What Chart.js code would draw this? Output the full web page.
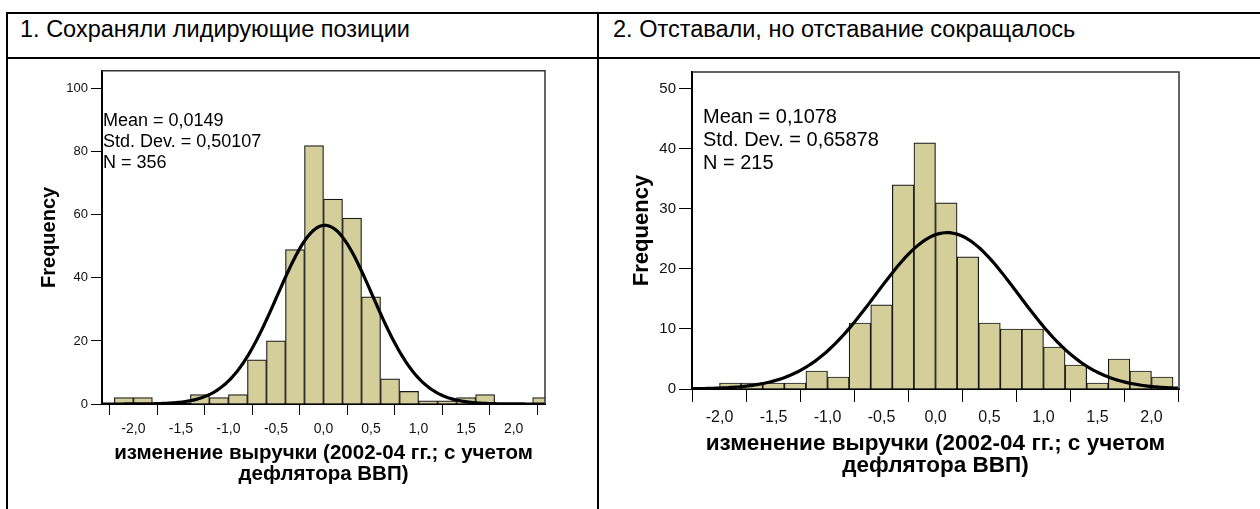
<!DOCTYPE html>
<html>
<head>
<meta charset="utf-8">
<script src="https://cdn.jsdelivr.net/npm/chart.js@4.4.1/dist/chart.umd.min.js"></script>
<style>
body { margin: 0; background: #fff; width: 1260px; height: 509px; overflow: hidden; position: relative; font-family: Arial, "Liberation Sans", sans-serif; }
.line { position: absolute; background: #000; }
.head { position: absolute; top: 18px; font-size: 23.5px; line-height: 23.5px; color: #000; white-space: nowrap; }
.box { position: absolute; }
</style>
</head>
<body>
<div class="line" style="left:6px;top:12px;width:1254px;height:2px"></div>
<div class="line" style="left:6px;top:57px;width:1254px;height:2px"></div>
<div class="line" style="left:6px;top:12px;width:2px;height:497px"></div>
<div class="line" style="left:597px;top:12px;width:2px;height:497px"></div>
<div class="head" style="left:20px">1. Сохраняли лидирующие позиции</div>
<div class="head" style="left:613px">2. Отставали, но отставание сокращалось</div>
<div class="box" style="left:9px;top:60px;width:587px;height:449px"><canvas id="hist1"></canvas></div>
<div class="box" style="left:600px;top:60px;width:660px;height:449px"><canvas id="hist2"></canvas></div>
<script>
// bin centres (bins are 0.2 wide) and counts
const bins1 = [-2.1, -1.9, -1.7, -1.5, -1.3, -1.1, -0.9, -0.7, -0.5, -0.3, -0.1, 0.1, 0.3, 0.5, 0.7, 0.9, 1.1, 1.3, 1.5, 1.7, 1.9, 2.1, 2.3];
const counts1 = [2, 2, 0, 0, 3, 2, 3, 14, 20, 49, 82, 65, 59, 34, 8, 4, 1, 1, 2, 3, 0, 0, 2];
const bins2 = [-1.9, -1.7, -1.5, -1.3, -1.1, -0.9, -0.7, -0.5, -0.3, -0.1, 0.1, 0.3, 0.5, 0.7, 0.9, 1.1, 1.3, 1.5, 1.7, 1.9, 2.1];
const counts2 = [1, 1, 1, 1, 3, 2, 11, 14, 34, 41, 31, 22, 11, 10, 10, 7, 4, 1, 5, 3, 2];

// printed statistics of each panel
const means = [0.0149, 0.1078];
const stdDevs = [0.50107, 0.65878];
const sizes = [356, 215];
const binWidth = 0.2;

const xTicks = [-2.0, -1.5, -1.0, -0.5, 0.0, 0.5, 1.0, 1.5, 2.0];
const yTicks1 = [0, 20, 40, 60, 80, 100];
const yTicks2 = [0, 10, 20, 30, 40, 50];

const xTitle = ['изменение выручки (2002-04 гг.; с учетом', 'дефлятора ВВП)'];
const statLabels = (i) => [
    'Mean = ' + String(means[i]).replace('.', ','),
    'Std. Dev. = ' + String(stdDevs[i]).replace('.', ','),
    'N = ' + sizes[i]
];

Chart.defaults.font.family = 'Arial, "Liberation Sans", sans-serif';
Chart.defaults.color = '#000';

// fitted normal curve, scaled to counts per bin
function normalCurve(i, xmin, xmax) {
    const pts = [];
    const k = sizes[i] * binWidth / (stdDevs[i] * Math.sqrt(2 * Math.PI));
    for (let x = xmin; x <= xmax + 1e-9; x += 0.02) {
        const z = (x - means[i]) / stdDevs[i];
        pts.push({x: x, y: k * Math.exp(-z * z / 2)});
    }
    return pts;
}

const framePlugin = {
    id: 'frame',
    afterDraw(chart, args, opts) {
        const {ctx, chartArea: a} = chart;
        ctx.save();
        ctx.strokeStyle = '#333';
        ctx.lineWidth = 1.5;
        ctx.beginPath();
        ctx.moveTo(a.left, a.top);
        ctx.lineTo(a.right, a.top);
        ctx.lineTo(a.right, a.bottom);
        ctx.stroke();
        ctx.font = opts.size + 'px Arial, "Liberation Sans", sans-serif';
        ctx.fillStyle = '#000';
        ctx.textBaseline = 'middle';
        opts.lines.forEach((t, j) => {
            ctx.fillText(t, a.left + opts.dx, a.top + opts.dy + j * opts.gap);
        });
        ctx.restore();
    }
};

function makeHist(id, i, bins, counts, p) {
    const yt = p.yTicks;
    return new Chart(document.getElementById(id), {
        type: 'bar',
        data: {
            datasets: [
                {
                    type: 'line',
                    data: normalCurve(i, p.xmin, p.xmax),
                    borderColor: '#000',
                    borderWidth: 3.2,
                    pointRadius: 0,
                    tension: 0,
                    order: 0
                },
                {
                    data: bins.map((b, j) => ({x: b, y: counts[j]})),
                    backgroundColor: '#D4CF9A',
                    borderColor: '#1a1a1a',
                    borderWidth: 1.2,
                    barPercentage: 1,
                    categoryPercentage: 1,
                    order: 1
                }
            ]
        },
        options: {
            animation: false,
            responsive: true,
            maintainAspectRatio: false,
            devicePixelRatio: 1,
            layout: {padding: {top: 8, right: p.padRight, left: 0, bottom: 0}},
            plugins: {
                legend: {display: false},
                tooltip: {enabled: false},
                frame: {lines: statLabels(i), size: p.statSize, dx: p.statDx, dy: p.statDy, gap: p.statGap}
            },
            scales: {
                x: {
                    type: 'linear',
                    min: p.xmin,
                    max: p.xmax,
                    offset: false,
                    afterFit: s => { s.height = p.xHeight; },
                    afterBuildTicks: s => { s.ticks = xTicks.map(v => ({value: v})); },
                    border: {color: '#000', width: 2},
                    grid: {drawOnChartArea: false, drawTicks: true, tickLength: p.tick, color: '#000', lineWidth: 1},
                    ticks: {
                        padding: p.xPad,
                        maxRotation: 0,
                        autoSkip: false,
                        font: {size: p.tickSize},
                        color: '#111',
                        callback: v => v.toFixed(1).replace('.', ',')
                    },
                    title: {
                        display: true,
                        text: xTitle,
                        font: {size: p.titleSize, weight: 'bold', lineHeight: p.titleLh},
                        padding: {top: 0, bottom: p.xTitlePad}
                    }
                },
                y: {
                    min: 0,
                    max: p.ymax,
                    afterFit: s => { s.width = p.yWidth; },
                    afterBuildTicks: s => { s.ticks = yt.map(v => ({value: v})); },
                    border: {color: '#000', width: 2},
                    grid: {drawOnChartArea: false, drawTicks: true, tickLength: p.tick, color: '#000', lineWidth: 1},
                    ticks: {padding: 3, font: {size: p.tickSize - 1}, color: '#111'},
                    title: {
                        display: true,
                        text: 'Frequency',
                        font: {size: p.yTitleSize, weight: 'bold', lineHeight: 1.2},
                        padding: {top: p.yTitlePad, bottom: 0}
                    }
                }
            }
        },
        plugins: [framePlugin]
    });
}

window.addEventListener('load', () => {
    makeHist('hist1', 0, bins1, counts1, {
        xmin: -2.33, xmax: 2.33, ymax: 105.7, yTicks: yTicks1,
        padRight: 51, yWidth: 93, xHeight: 105, tick: 11, xPad: 6,
        tickSize: 14, titleSize: 20.5, titleLh: 1.03, xTitlePad: 24, yTitleSize: 20, yTitlePad: 28,
        statSize: 18, statDx: 1, statDy: 50, statGap: 21
    });
    makeHist('hist2', 1, bins2, counts2, {
        xmin: -2.255, xmax: 2.255, ymax: 52.8, yTicks: yTicks2,
        padRight: 81, yWidth: 92, xHeight: 120, tick: 13, xPad: 6,
        tickSize: 16, titleSize: 22.5, titleLh: 0.98, xTitlePad: 32, yTitleSize: 22, yTitlePad: 29,
        statSize: 20, statDx: 11, statDy: 45, statGap: 23
    });
});
</script>
</body>
</html>
